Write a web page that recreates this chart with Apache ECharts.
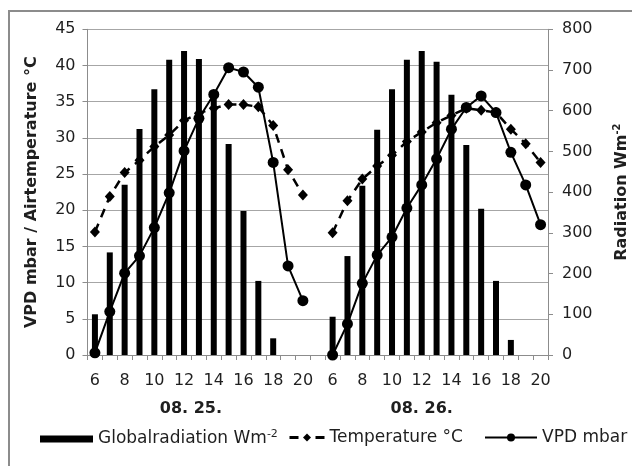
<!DOCTYPE html>
<html>
<head>
<meta charset="utf-8">
<script src="https://cdn.jsdelivr.net/npm/echarts@6/dist/echarts.min.js"></script>
<style>
html,body{margin:0;padding:0;background:#fff;overflow:hidden;}
#c{width:632px;height:466px;}
</style>
</head>
<body>
<div id="c"></div>
<script>
// Data (hours of day, two days, one blank slot between days)
var hours = ['6','7','8','9','10','11','12','13','14','15','16','17','18','19','20'];
var dayLabels = ['08. 25.', '08. 26.'];
var leftTicks = [0,5,10,15,20,25,30,35,40,45];
var rightTicks = [0,100,200,300,400,500,600,700,800];

var radiationDay1 = [100,252,418,555,653,725,747,727,630,518,354,182,41,0,0];
var radiationDay2 = [94,243,416,553,653,725,747,720,639,516,359,182,37,0,0];

var temperatureDay1 = [17.0,21.9,25.2,26.9,28.8,30.4,32.4,33.4,34.1,34.6,34.6,34.3,31.7,25.6,22.1];
var temperatureDay2 = [16.9,21.3,24.3,26.1,27.6,29.5,30.8,32.1,33.1,34.1,33.8,33.5,31.2,29.2,26.6];

var vpdDay1 = [0.3,6.0,11.3,13.7,17.6,22.4,28.2,32.7,36.0,39.7,39.1,37.0,26.6,12.3,7.5];
var vpdDay2 = [0.0,4.3,9.9,13.8,16.3,20.3,23.5,27.1,31.2,34.2,35.8,33.5,28.0,23.5,18.0];

// Build category axis: day1 hours, blank slot, day2 hours
var categories = hours.concat(['']).concat(hours);
function join(a, b){ return a.concat([null]).concat(b); }
var radiation = join(radiationDay1, radiationDay2);
var temperature = join(temperatureDay1, temperatureDay2);
var vpd = join(vpdDay1, vpdDay2);
var dayCats = categories.map(function(_, i){
  if (i === 7) return '{a|' + dayLabels[0] + '}';
  if (i === 22) return '{b|' + dayLabels[1] + '}';
  return '';
});

var FONT = 'DejaVu Sans';
var TXT = '#1f1f1f';
var AX = '#8c8c8c';
var dayStyle = {fontSize: 16, fontWeight: 'bold', color: TXT, fontFamily: FONT};

var chart = echarts.init(document.getElementById('c'));
chart.setOption({
  animation: false,
  backgroundColor: '#fff',
  textStyle: {fontFamily: FONT},
  graphic: [{
    type: 'rect', silent: true,
    shape: {x: 9, y: 11, width: 700, height: 520},
    style: {fill: 'none', stroke: '#8c8c8c', lineWidth: 2}
  }],
  grid: {left: 87.5, right: 84, top: 29.3, bottom: 111, containLabel: false, outerBoundsMode: 'none'},
  xAxis: [{
    type: 'category',
    data: categories,
    boundaryGap: true,
    axisLine: {show: true, lineStyle: {color: AX, width: 1}},
    axisTick: {show: true, interval: 0, length: 5, lineStyle: {color: AX}},
    axisLabel: {interval: 1, margin: 18, fontSize: 16, color: TXT, fontFamily: FONT},
    splitLine: {show: false}
  }, {
    type: 'category',
    data: dayCats,
    position: 'bottom',
    offset: 28,
    boundaryGap: true,
    axisLine: {show: false},
    axisTick: {show: false},
    axisLabel: {interval: 0, margin: 18, fontSize: 16, fontWeight: 'bold', color: TXT, fontFamily: FONT,
      rich: {a: Object.assign({padding: [0, 16, 0, 0]}, dayStyle), b: Object.assign({padding: [0, 0, 0, 0]}, dayStyle)}},
    splitLine: {show: false}
  }],
  yAxis: [{
    type: 'value',
    min: leftTicks[0], max: leftTicks[leftTicks.length-1], interval: 5,
    name: 'VPD mbar / Airtemperature °C',
    nameLocation: 'middle', nameRotate: 90, nameGap: 48,
    nameTextStyle: {fontSize: 16, fontWeight: 'bold', color: TXT, fontFamily: FONT},
    axisLine: {show: true, lineStyle: {color: AX}},
    axisTick: {show: true, length: 5, lineStyle: {color: AX}},
    axisLabel: {fontSize: 16, color: TXT, margin: 12, fontFamily: FONT},
    splitLine: {show: true, lineStyle: {color: '#a6a6a6', width: 1}}
  }, {
    type: 'value',
    min: rightTicks[0], max: rightTicks[rightTicks.length-1], interval: 100,
    position: 'right',
    name: '{n|Radiation Wm}{s|-2}',
    nameLocation: 'middle', nameRotate: 90, nameGap: 64,
    nameTextStyle: {fontSize: 16, fontWeight: 'bold', color: TXT, fontFamily: FONT,
      rich: {n: {fontSize: 16, fontWeight: 'bold', color: TXT, fontFamily: FONT},
             s: {fontSize: 10, fontWeight: 'bold', color: TXT, fontFamily: FONT, padding: [0,0,9,0]}}},
    axisLine: {show: true, lineStyle: {color: AX}},
    axisTick: {show: true, length: 5, lineStyle: {color: AX}},
    axisLabel: {fontSize: 16, color: TXT, margin: 14, fontFamily: FONT},
    splitLine: {show: false}
  }],
  legend: [{
    left: 40, top: 429, padding: 0,
    data: ['Globalradiation Wm-2'],
    itemWidth: 53, itemHeight: 7, itemGap: 0,
    icon: 'rect',
    formatter: function(){ return '{n|Globalradiation Wm}{s|-2}'; },
    textStyle: {fontSize: 17, color: TXT, fontFamily: FONT,
      rich: {n: {fontSize: 17, color: TXT, fontFamily: FONT},
             s: {fontSize: 11, color: TXT, fontFamily: FONT, padding: [0,0,9,0]}}}
  }, {
    left: 288, top: 429, padding: 0,
    data: ['Temperature °C'],
    itemWidth: 35, itemHeight: 10,
    lineStyle: {type: [9, 17], width: 3},
    textStyle: {fontSize: 17, color: TXT, fontFamily: FONT}
  }, {
    left: 484, top: 429, padding: 0,
    data: ['VPD mbar'],
    itemWidth: 52, itemHeight: 10,
    textStyle: {fontSize: 17, color: TXT, fontFamily: FONT}
  }],
  series: [{
    name: 'Globalradiation Wm-2',
    type: 'bar',
    xAxisIndex: 0, yAxisIndex: 1,
    data: radiation,
    barWidth: 6,
    itemStyle: {color: '#000'},
    z: 1
  }, {
    name: 'Temperature °C',
    type: 'line',
    xAxisIndex: 0, yAxisIndex: 0,
    data: temperature,
    connectNulls: false,
    showAllSymbol: true,
    symbol: 'diamond', symbolSize: [10, 11],
    lineStyle: {color: '#000', width: 2.5, type: [9, 7]},
    itemStyle: {color: '#000'},
    z: 3
  }, {
    name: 'VPD mbar',
    type: 'line',
    xAxisIndex: 0, yAxisIndex: 0,
    data: vpd,
    connectNulls: false,
    showAllSymbol: true,
    symbol: 'circle', symbolSize: 11,
    lineStyle: {color: '#000', width: 2},
    itemStyle: {color: '#000'},
    z: 4
  }]
});
</script>
</body>
</html>
